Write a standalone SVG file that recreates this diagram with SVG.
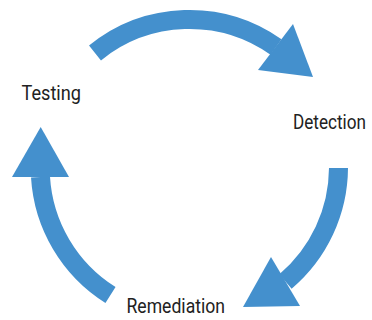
<svg xmlns="http://www.w3.org/2000/svg" width="372" height="320" viewBox="0 0 372 320">
<style>
.shaft{fill:none;stroke:#4490cd;stroke-width:19;stroke-linecap:butt}
.head{fill:#4490cd;stroke:none}
.lbl{font-family:Roboto,"Liberation Sans",sans-serif;font-size:21px;fill:#222}
</style>
<rect width="372" height="320" fill="#fff"/>
<g id="connectors">
<path class="shaft" d="M95,53 A150,150 0 0 1 276,47"/>
<polygon class="head" points="293,24 313,77 258,70"/>
<path class="shaft" d="M338.5,168 A150,150 0 0 1 285.5,281.5"/>
<polygon class="head" points="271,257 243,307 300,306"/>
<path class="shaft" d="M110.5,295 A150,150 0 0 1 40.5,177"/>
<polygon class="head" points="12,177 40.7,127 69,177"/>
</g>
<g id="testing"><text class="lbl" x="21.5" y="100" textLength="59.5" lengthAdjust="spacingAndGlyphs">Testing</text></g>
<g id="detection"><text class="lbl" x="293" y="129" textLength="73" lengthAdjust="spacingAndGlyphs">Detection</text></g>
<g id="remediation"><text class="lbl" x="126.5" y="313" textLength="98.5" lengthAdjust="spacingAndGlyphs">Remediation</text></g>
</svg>
